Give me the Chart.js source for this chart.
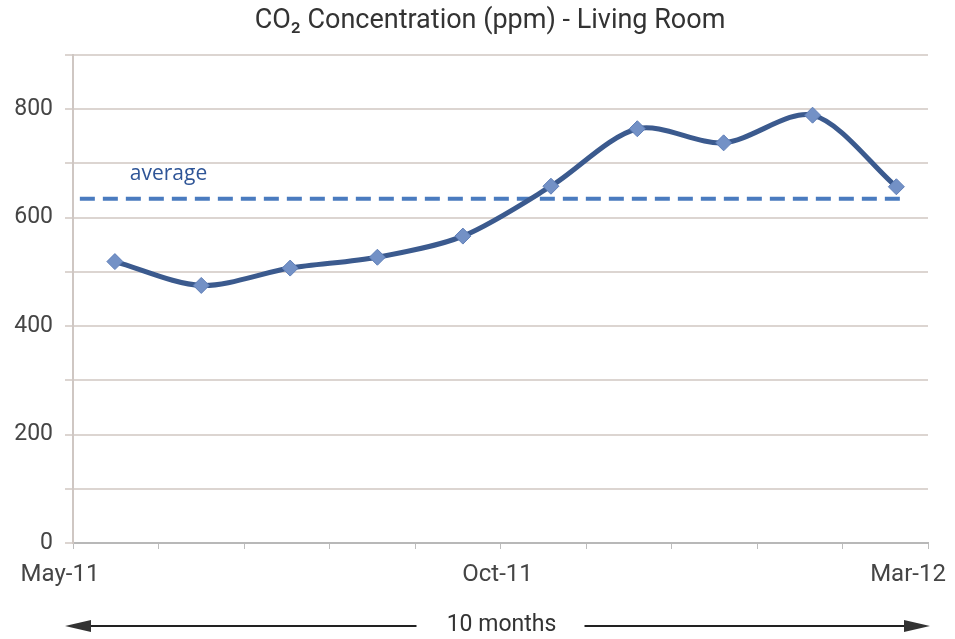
<!DOCTYPE html>
<html>
<head>
<meta charset="utf-8">
<script src="https://cdn.jsdelivr.net/npm/chart.js@4"></script>
<style>
  html, body { margin: 0; padding: 0; background: #fff; }
  #wrap { width: 955px; height: 639px; }
</style>
</head>
<body>
<div id="wrap"><canvas id="co2-chart" width="955" height="639"></canvas></div>
<script>
// --- DATA ---
const monthPositions = [0.49, 1.5, 2.54, 3.56, 4.56, 5.59, 6.6, 7.61, 8.65, 9.63]; // months after May-11
const co2Values = [519, 475, 507, 527, 566, 658, 764, 738, 789, 657];             // ppm
const averageValue = 635;
const averageSpan = [0.08, 9.71];                 // where the dashed average line starts / ends
const axisTickValues = [0, 5, 10];
const axisTickLabels = ['May-11', 'Oct-11', 'Mar-12'];
const yLabelValues = [0, 200, 400, 600, 800];
const titleText = 'CO\u2082 Concentration (ppm) - Living Room';
const spanText = '10 months';

// --- STYLE ---
const TEXT_GRAY = '#454545';
const LABEL_FONT = '"Roboto", sans-serif';

// title, x labels, "average" note and the bottom arrow
const extrasPlugin = {
    id: 'extras',
    afterDraw(chart) {
        const c = chart.ctx;
        const x = chart.scales.x;
        const y = chart.scales.y;
        c.save();

        // title
        c.fillStyle = '#333';
        c.font = '27px ' + LABEL_FONT;
        c.textAlign = 'center';
        c.textBaseline = 'middle';
        c.fillText(titleText, 490, 21);

        // x labels (edge ones pulled inwards like the original)
        const shifts = [-13, -3, -20];
        c.fillStyle = TEXT_GRAY;
        c.font = '24px ' + LABEL_FONT;
        axisTickValues.forEach((v, i) => {
            c.fillText(axisTickLabels[i], x.getPixelForValue(v) + shifts[i], 575);
        });

        // "average" note
        c.fillStyle = '#2f5597';
        c.font = '21px "Open Sans", sans-serif';
        c.textAlign = 'left';
        c.fillText('average', x.getPixelForValue(averageSpan[0]) + 50, y.getPixelForValue(averageValue) - 25);

        // bottom span arrow
        const ay = 626;
        const left = x.getPixelForValue(0) - 8;
        const right = x.getPixelForValue(10) + 2;
        const mid = (left + right) / 2 + 4;
        c.fillStyle = '#333';
        c.font = '23px ' + LABEL_FONT;
        c.textAlign = 'center';
        c.fillText(spanText, mid, ay - 1);
        c.strokeStyle = '#222';
        c.lineWidth = 2;
        c.beginPath();
        c.moveTo(left + 20, ay); c.lineTo(mid - 85, ay);
        c.moveTo(mid + 83, ay); c.lineTo(right - 20, ay);
        c.stroke();
        c.beginPath();
        c.moveTo(left, ay); c.lineTo(left + 26, ay - 6); c.lineTo(left + 26, ay + 6); c.closePath();
        c.moveTo(right, ay); c.lineTo(right - 26, ay - 6); c.lineTo(right - 26, ay + 6); c.closePath();
        c.fill();
        c.restore();
    }
};

const co2Points = monthPositions.map((m, i) => ({ x: m, y: co2Values[i] }));
const averagePoints = averageSpan.map(m => ({ x: m, y: averageValue }));

new Chart(document.getElementById('co2-chart'), {
    type: 'line',
    data: {
        datasets: [
            {
                label: 'average',
                data: averagePoints,
                borderColor: '#4a7bbf',
                borderWidth: 4,
                borderDash: [15, 8],
                pointRadius: 0,
                order: 2
            },
            {
                label: 'CO2',
                data: co2Points,
                borderColor: '#3b5a8e',
                borderWidth: 5,
                tension: 0.3,
                pointStyle: 'rectRot',
                pointRadius: 8,
                pointBackgroundColor: '#7391c6',
                pointBorderColor: '#5f7fb8',
                pointBorderWidth: 1,
                order: 1
            }
        ]
    },
    options: {
        responsive: false,
        animation: false,
        layout: { padding: { top: 55, right: 27, left: 0, bottom: 0 } },
        plugins: {
            legend: { display: false },
            title: { display: false },
            tooltip: { enabled: false }
        },
        scales: {
            x: {
                type: 'linear',
                min: 0,
                max: 10,
                ticks: { stepSize: 1, callback: () => '', padding: 0 },
                grid: { drawOnChartArea: false, drawTicks: true, tickLength: 6, color: '#bdbdbd' },
                border: { color: '#b8b8b8', width: 2 },
                afterFit(scale) { scale.height = 96; }
            },
            y: {
                min: 0,
                max: 900,
                ticks: {
                    stepSize: 100,
                    padding: 12,
                    color: TEXT_GRAY,
                    font: { family: 'Roboto', size: 23 },
                    callback: v => yLabelValues.includes(v) ? v : ''
                },
                grid: { color: '#dcd5d1', lineWidth: 2, tickLength: 8 },
                border: { color: '#cfc7c3', width: 2 },
                afterFit(scale) { scale.width = 73; }
            }
        }
    },
    plugins: [extrasPlugin]
});
</script>
</body>
</html>
